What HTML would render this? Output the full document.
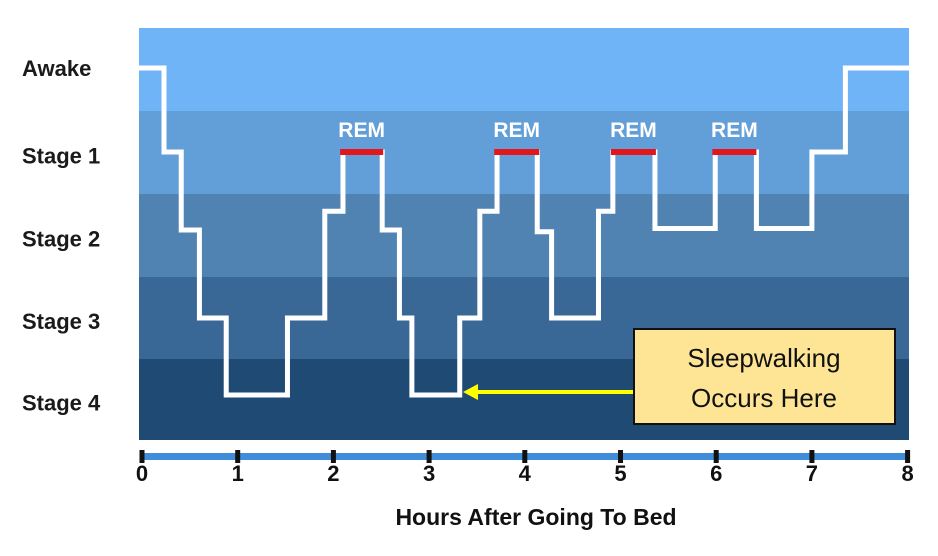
<!DOCTYPE html>
<html><head><meta charset="utf-8"><style>
html,body{margin:0;padding:0;background:#fff;}
svg{display:block;}
text{font-family:"Liberation Sans",sans-serif;}
</style></head><body>
<svg id="chart" width="938" height="556" viewBox="0 0 938 556">
<g id="bands"></g><g id="ylabels"></g><g id="hyp"></g><g id="rem"></g><g id="axis"></g>
<text x="536" y="525" text-anchor="middle" font-size="23" font-weight="bold" fill="#111">Hours After Going To Bed</text>
<line x1="634" y1="392" x2="478" y2="392" stroke="#ffff00" stroke-width="4"/>
<polygon points="463,392 478,384 478,400" fill="#ffff00"/>
<rect x="634" y="329" width="261" height="95" fill="#fde595" stroke="#111" stroke-width="2"/>
<text x="764" y="367" text-anchor="middle" font-size="26" fill="#111">Sleepwalking</text>
<text x="764" y="407" text-anchor="middle" font-size="26" fill="#111">Occurs Here</text>
</svg>
<script>
const stageLabels=["Awake","Stage 1","Stage 2","Stage 3","Stage 4"];
const xTicks=[0,1,2,3,4,5,6,7,8];
const stepHours=[0,0.23,0.41,0.60,0.88,1.52,1.91,2.10,2.51,2.69,2.82,3.32,3.53,3.71,4.13,4.28,4.77,4.92,5.36,5.99,6.42,7.0,7.35];
const stepLevels=[0,1,2,3,4,3,1.76,1,2,3,4,3,1.76,1,2.02,3,1.76,1,1.98,1,1.98,1,0];
const endHour=8;
const remStart=[2.07,3.68,4.9,5.96];
const remEnd=[2.52,4.15,5.37,6.42];

const NS="http://www.w3.org/2000/svg";
const X0=142,XS=95.7;
const xs=h=>X0+XS*h;
const LV=[68,152,230,318,395];
const ys=v=>{const i=Math.min(3,Math.floor(v));return LV[i]+(LV[i+1]-LV[i])*(v-i);};
const BB=[28,111,194,277,359,440];
function mk(tag,attrs,parent,txt){const e=document.createElementNS(NS,tag);for(const k in attrs)e.setAttribute(k,attrs[k]);if(txt!==undefined)e.textContent=txt;parent.appendChild(e);return e;}
const bandColors=["#6fb4f6","#629fd8","#5183b2","#3a6896","#1f4a74"];
const bands=document.getElementById('bands'),yl=document.getElementById('ylabels');
stageLabels.forEach((s,i)=>{
  const top=BB[i],bot=BB[i+1];
  const r=mk('rect',{x:139,y:top,width:770,height:bot-top,fill:bandColors[i]},bands);
  
  
  const ly=i===0?76:(top+bot)/2+11;
  const t=mk('text',{x:22,y:ly,'font-size':22,'font-weight':'bold',fill:'#1a1a1a'},yl,s);
  
  
});
let d='M139 '+ys(stepLevels[0]);
for(let i=0;i<stepHours.length;i++){
  const x=xs(stepHours[i]);
  if(i>0)d+=' L'+x+' '+ys(stepLevels[i-1])+' L'+x+' '+ys(stepLevels[i]);
}
d+=' L909 '+ys(stepLevels[stepLevels.length-1]);
const p=mk('path',{d:d,fill:'none',stroke:'#fff','stroke-width':5,'stroke-linejoin':'miter'},document.getElementById('hyp'));


const rem=document.getElementById('rem');
remStart.forEach((s,i)=>{
  const r=mk('rect',{x:xs(s),y:ys(1)-3,width:xs(remEnd[i])-xs(s),height:6,fill:'#e3161b'},rem);
  
  
  const t=mk('text',{x:(xs(s)+xs(remEnd[i]))/2,y:137,'text-anchor':'middle','font-size':21,'font-weight':'bold',fill:'#fff'},rem,'REM');
  
  
});
const ax=document.getElementById('axis');
const bar=mk('rect',{x:xs(0),y:453,width:xs(8)-xs(0),height:7,fill:'#3f8ddb'},ax);


xTicks.forEach(h=>{
  const tk=mk('rect',{x:xs(h)-2.5,y:450,width:5,height:13,fill:'#111'},ax);
  
  
  const t=mk('text',{x:xs(h),y:481,'text-anchor':'middle','font-size':22,'font-weight':'bold',fill:'#111'},ax,String(h));
  
  
});
</script>
</body></html>
